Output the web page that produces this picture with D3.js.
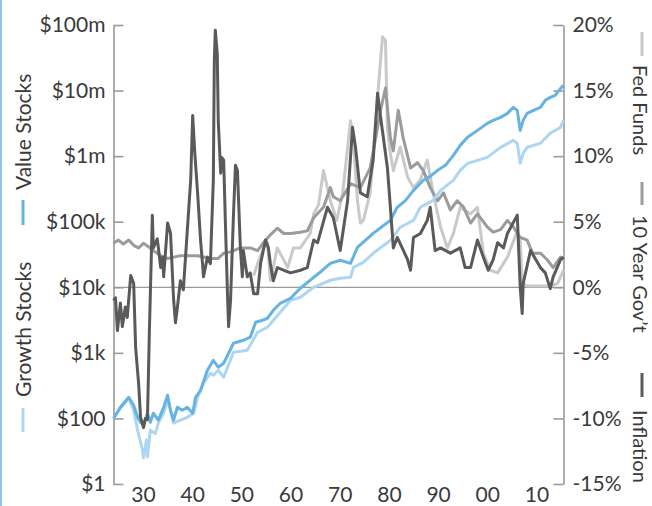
<!DOCTYPE html>
<html>
<head>
<meta charset="utf-8">
<script src="https://cdn.jsdelivr.net/npm/d3@7"></script>
<style>
  body { margin: 0; background: #fff; }
  text { font-family: Lato, "Noto Sans", sans-serif; fill: #3a3a3a; }
</style>
</head>
<body>
<div id="chart"></div>
<script>
// tick labels
var decadeTicks = [1930, 1940, 1950, 1960, 1970, 1980, 1990, 2000, 2010];
var decadeLabels = ["30", "40", "50", "60", "70", "80", "90", "00", "10"];
var dollarTicks = [10, 100, 1e3, 1e4, 1e5, 1e6, 1e7, 1e8];
var dollarLabels = ["$1", "$100", "$1k", "$10k", "$100k", "$1m", "$10m", "$100m"];
var pctTicks = [-15, -10, -5, 0, 5, 10, 15, 20];

// growth of $100, value stocks
var valueStocks = [[1923.9,100],[1925.3,148],[1927.0,210],[1928.0,159],[1928.8,104],[1929.4,87],[1930.0,79],[1930.8,120],[1931.4,87],[1932.0,120],[1933.0,94],[1934.1,148],[1934.9,226],[1935.5,133],[1936.1,94],[1936.9,148],[1937.9,133],[1938.9,148],[1940.0,120],[1940.6,210],[1941.6,269],[1943.0,543],[1944.2,771],[1945.2,603],[1946.3,694],[1948.3,1400],[1950.3,1556],[1951.7,1730],[1952.8,2926],[1954.2,3140],[1955.2,3370],[1956.4,4460],[1957.8,5700],[1959.9,6800],[1961.9,9660],[1964.6,14200],[1966.4,18200],[1968.0,23200],[1970.0,25800],[1972.1,23200],[1973.5,40700],[1975.1,52000],[1976.7,66500],[1978.6,85100],[1980.2,105000],[1981.6,166000],[1983.3,212000],[1984.9,301000],[1986.9,428000],[1988.3,492000],[1989.8,608000],[1991.4,724000],[1993.0,1030000],[1994.4,1460000],[1995.9,1940000],[1997.9,2470000],[1999.9,3160000],[2001.1,3520000],[2002.6,3900000],[2004.0,4490000],[2005.2,5550000],[2006.0,4990000],[2006.6,2470000],[2007.2,3520000],[2008.0,4490000],[2009.3,4990000],[2010.7,5550000],[2011.7,7100000],[2012.7,7870000],[2013.7,8450000],[2014.8,10800000],[2015.4,12000000]];

// growth of $100, growth stocks
var growthStocks = [[1923.9,100],[1925.3,143],[1927.0,203],[1928.0,133],[1928.8,66],[1929.8,33],[1930.0,25],[1930.6,47],[1930.8,26],[1931.4,66],[1932.4,59],[1933.0,85],[1934.1,120],[1934.9,189],[1935.5,133],[1936.1,85],[1937.5,94],[1938.9,104],[1940.2,120],[1941.0,210],[1942.2,344],[1943.6,489],[1944.2,456],[1945.2,543],[1946.3,425],[1948.3,1020],[1951.1,1096],[1953.2,2060],[1955.2,2455],[1957.8,4160],[1959.9,6340],[1961.9,7040],[1964.6,10000],[1968.0,12800],[1970.0,13700],[1972.1,14200],[1972.7,20200],[1974.7,24000],[1976.7,33000],[1978.6,42200],[1980.2,52000],[1982.2,82200],[1984.9,105000],[1986.3,166000],[1988.9,212000],[1990.4,301000],[1993.0,428000],[1994.4,608000],[1995.9,777000],[1997.9,863000],[1999.9,959000],[2002.6,1360000],[2005.2,1740000],[2006.0,1570000],[2006.6,777000],[2007.2,1100000],[2008.0,1360000],[2010.7,1570000],[2012.7,2230000],[2014.8,2750000],[2015.4,3520000]];

// rates in percent
var fedFunds = [[1952.4,0.9],[1953.2,1.8],[1954.4,3.0],[1955.2,3.4],[1955.8,0.5],[1957.2,3.0],[1958.5,2.1],[1959.3,1.5],[1960.5,3.0],[1961.9,3.0],[1963.9,4.1],[1964.6,5.6],[1965.6,6.3],[1966.6,8.9],[1968.0,6.6],[1969.3,5.1],[1970.5,7.2],[1972.1,12.7],[1972.7,11.2],[1973.5,6.6],[1974.1,4.9],[1974.7,5.1],[1976.1,7.2],[1977.6,14.5],[1978.2,17.3],[1978.6,19.1],[1979.2,18.8],[1979.6,12.2],[1980.2,10.2],[1980.8,8.9],[1982.2,10.7],[1983.7,8.4],[1984.9,7.6],[1986.3,8.2],[1987.7,9.7],[1988.9,7.2],[1990.4,4.6],[1991.8,3.0],[1993.0,4.1],[1994.4,6.1],[1996.5,5.6],[1997.9,6.1],[1999.1,2.6],[2000.5,1.3],[2002.0,1.1],[2004.0,2.3],[2006.0,4.3],[2006.6,3.6],[2007.0,0.3],[2008.0,0.1],[2010.7,0.1],[2012.7,0.1],[2014.2,0.3],[2015.4,1.3]];

var tenYear = [[1923.9,3.35],[1924.9,3.6],[1925.9,3.3],[1927.0,3.6],[1928.0,3.2],[1929.0,3.0],[1930.0,3.35],[1931.0,3.1],[1932.0,2.8],[1933.5,2.4],[1934.9,2.2],[1936.1,2.3],[1937.5,2.4],[1938.9,2.4],[1941.0,2.4],[1943.6,2.2],[1945.2,2.2],[1946.3,2.6],[1947.7,2.7],[1949.7,3.0],[1951.7,3.0],[1953.2,2.8],[1954.4,3.4],[1955.8,4.0],[1957.2,4.5],[1958.5,4.1],[1959.9,4.1],[1961.9,4.2],[1963.3,4.3],[1964.6,5.3],[1966.6,6.1],[1968.0,7.6],[1968.6,6.9],[1970.0,6.6],[1972.1,7.9],[1974.1,7.6],[1976.1,9.1],[1977.6,12.2],[1978.2,13.5],[1979.2,15.2],[1980.2,11.4],[1980.8,10.4],[1981.8,13.5],[1982.8,11.4],[1984.3,9.1],[1985.7,9.5],[1986.9,8.9],[1988.3,7.6],[1989.8,6.6],[1991.0,7.2],[1992.4,5.9],[1993.8,6.6],[1995.1,6.1],[1996.5,4.9],[1997.9,5.6],[1999.9,4.6],[2001.1,4.2],[2002.6,4.4],[2004.0,5.1],[2005.2,4.6],[2006.6,3.8],[2008.0,3.6],[2009.1,2.6],[2010.7,2.6],[2012.1,2.1],[2013.3,1.5],[2014.8,2.3],[2015.4,2.1]];

var inflation = [[1923.9,-1.0],[1924.3,-0.8],[1924.7,-3.3],[1925.3,-1.2],[1925.7,-3.0],[1926.3,-1.5],[1926.7,-2.3],[1927.4,0.9],[1928.0,0.3],[1928.4,-4.6],[1929.0,-7.3],[1929.4,-9.9],[1930.0,-10.7],[1930.4,-10.0],[1930.8,-10.1],[1931.2,-3.3],[1931.8,5.5],[1932.0,3.0],[1932.8,3.7],[1933.5,1.5],[1933.9,2.3],[1934.1,0.8],[1934.9,4.9],[1935.5,4.1],[1936.1,-0.8],[1936.5,-2.7],[1936.9,-1.5],[1937.5,0.5],[1938.1,-0.2],[1938.9,4.3],[1939.6,8.2],[1940.0,13.1],[1940.4,10.4],[1941.0,7.2],[1941.6,3.6],[1942.0,1.8],[1942.2,0.8],[1943.0,2.3],[1943.6,1.8],[1944.2,8.2],[1944.4,17.3],[1944.6,19.6],[1945.0,17.8],[1945.2,12.7],[1945.7,8.7],[1945.9,9.9],[1946.3,9.7],[1946.7,4.3],[1947.1,-0.8],[1947.3,-3.0],[1947.7,-1.0],[1948.3,5.6],[1948.7,9.3],[1949.1,8.9],[1949.7,3.0],[1950.1,0.8],[1950.3,2.8],[1951.1,0.8],[1951.7,1.1],[1952.4,-0.5],[1953.2,-0.5],[1953.8,1.8],[1954.8,3.6],[1955.4,3.0],[1955.8,1.8],[1956.4,0.5],[1957.2,1.5],[1958.5,1.3],[1959.9,1.1],[1961.9,1.3],[1963.3,1.5],[1964.6,3.6],[1965.4,3.4],[1967.4,6.1],[1968.6,5.3],[1970.0,2.8],[1971.5,6.6],[1972.5,12.2],[1973.1,10.7],[1974.1,7.2],[1975.5,6.9],[1976.7,9.7],[1977.6,14.8],[1978.2,13.0],[1979.6,9.1],[1980.2,6.1],[1980.8,3.0],[1981.6,3.8],[1982.6,3.0],[1983.7,2.1],[1984.3,1.3],[1984.9,3.8],[1986.3,4.1],[1987.7,5.1],[1988.3,6.1],[1989.3,2.8],[1990.4,3.0],[1992.4,2.6],[1994.4,3.0],[1995.4,1.5],[1996.5,1.5],[1997.9,3.6],[1999.1,2.3],[2000.1,1.3],[2001.1,2.1],[2002.0,3.4],[2003.2,3.0],[2004.0,4.1],[2006.0,5.5],[2006.6,0.0],[2007.0,-2.0],[2007.2,0.3],[2008.7,2.8],[2010.7,1.5],[2011.7,1.1],[2012.7,-0.1],[2013.3,0.8],[2014.8,2.1],[2015.4,2.3]];

var W = 652, H = 506;
var svg = d3.select("#chart").append("svg")
    .attr("width", W)
    .attr("height", H);

// thin blue border on the left edge
svg.append("rect").attr("x", 0).attr("y", 0).attr("width", 2).attr("height", H).attr("fill", "#8cc6ea");

var x = d3.scaleLinear().domain([1923.9, 2015.4]).range([113.5, 563.5]);
var yL = d3.scaleLog().domain([10, 1e8]).range([484, 25]);
var yR = d3.scaleLinear().domain([-15, 20]).range([484, 25]);

// zero line
svg.append("line")
    .attr("x1", 113.5).attr("x2", 563.5)
    .attr("y1", yR(0)).attr("y2", yR(0))
    .attr("stroke", "#9a9a9a").attr("stroke-width", 1.2);

// left axis
var gl = svg.append("g").attr("transform", "translate(113.5,0)")
  .call(d3.axisLeft(yL).tickValues(dollarTicks).tickSize(-10).tickSizeOuter(0).tickPadding(8)
    .tickFormat(function(d, i){ return dollarLabels[i]; }));

// right axis
var gr = svg.append("g").attr("transform", "translate(563.5,0)")
  .call(d3.axisRight(yR).tickValues(pctTicks).tickSize(-10).tickSizeOuter(0).tickPadding(9)
    .tickFormat(function(d){ return d + "%"; }));

[gl, gr].forEach(function(g){
  g.select(".domain").attr("stroke", "#9a9a9a").attr("stroke-width", 1.6);
  g.selectAll(".tick line").attr("stroke", "#9a9a9a").attr("stroke-width", 1.6);
  g.selectAll(".tick text").style("font-size", "21px").style("font-family", "Lato, sans-serif").attr("fill", "#3a3a3a");
});

// bottom labels, no axis line
svg.append("g").selectAll("text")
  .data(decadeTicks)
  .enter().append("text")
    .attr("x", function(d){ return x(d); })
    .attr("y", 502)
    .attr("text-anchor", "middle")
    .style("font-size", "21px")
    .text(function(d, i){ return decadeLabels[i]; });

var lineL = d3.line().x(function(d){ return x(d[0]); }).y(function(d){ return yL(d[1]); });
var lineR = d3.line().x(function(d){ return x(d[0]); }).y(function(d){ return yR(d[1]); });

function draw(data, gen, color){
  svg.append("path")
    .datum(data)
    .attr("d", gen)
    .attr("fill", "none")
    .attr("stroke", color)
    .attr("stroke-width", 3)
    .attr("stroke-linejoin", "round");
}

draw(fedFunds, lineR, "#c9c9c9");
draw(tenYear, lineR, "#9b9b9b");
draw(growthStocks, lineL, "#acd6f1");
draw(valueStocks, lineL, "#66b3e2");
draw(inflation, lineR, "#5a5a5a");

// legends
var leftLegend = [
  {name: "Value Stocks", color: "#66b3e2", d0: 200, d1: 225, t: 190},
  {name: "Growth Stocks", color: "#acd6f1", d0: 408, d1: 432, t: 397}
];
var rightLegend = [
  {name: "Fed Funds", color: "#c9c9c9", d0: 32, d1: 56, t: 65},
  {name: "10 Year Gov\u2019t", color: "#9b9b9b", d0: 182, d1: 205, t: 215},
  {name: "Inflation", color: "#5a5a5a", d0: 373, d1: 397, t: 410}
];

leftLegend.forEach(function(l){
  svg.append("line").attr("x1", 23).attr("x2", 23).attr("y1", l.d0).attr("y2", l.d1)
    .attr("stroke", l.color).attr("stroke-width", 3);
  svg.append("text")
    .attr("transform", "translate(31," + l.t + ") rotate(-90)")
    .style("font-size", "21px")
    .text(l.name);
});

rightLegend.forEach(function(l){
  svg.append("line").attr("x1", 642).attr("x2", 642).attr("y1", l.d0).attr("y2", l.d1)
    .attr("stroke", l.color).attr("stroke-width", 3);
  svg.append("text")
    .attr("transform", "translate(633," + l.t + ") rotate(90)")
    .style("font-size", "20px")
    .text(l.name);
});
</script>
</body>
</html>
